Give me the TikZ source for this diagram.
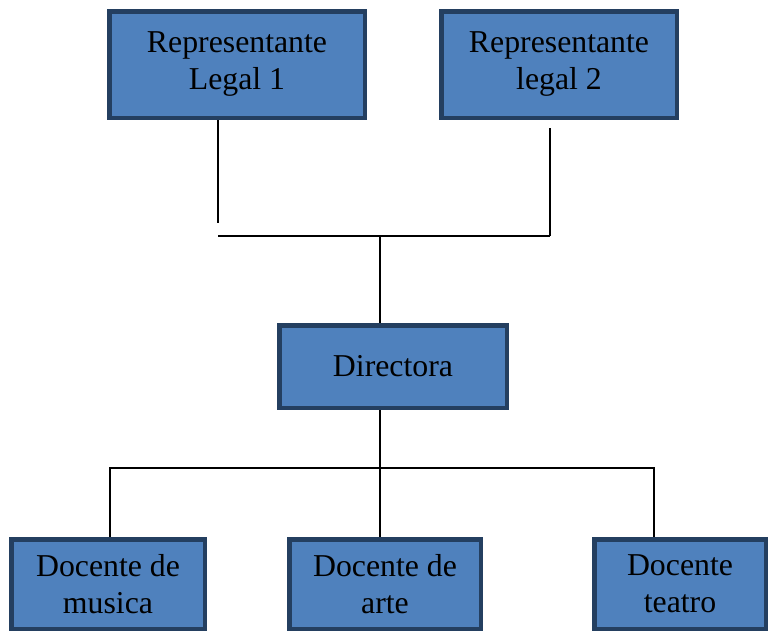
\documentclass[tikz,border=0pt]{standalone}
\usepackage{fontspec}
\setmainfont{Liberation Serif}
\definecolor{boxfill}{HTML}{4F81BD}
\definecolor{boxborder}{HTML}{243F60}
\begin{document}
\begin{tikzpicture}[x=1pt,y=-1pt,
  orgbox/.style={draw=boxborder, line width=4.5pt, fill=boxfill, inner sep=0pt,
    align=center, font=\fontsize{31.8}{37}\selectfont},
  conn/.style={draw=black, line width=2pt},
  connthin/.style={draw=black, line width=1.5pt}]
\useasboundingbox (0,0) rectangle (770,630);
\node[orgbox, minimum width=255.5pt, minimum height=106.5pt] (r1) at (237,64.5) {Representante\\Legal 1};
\node[orgbox, minimum width=235.5pt, minimum height=106.5pt] (r2) at (559,64.5) {Representante\\legal 2};
\node[orgbox, minimum width=227.5pt, minimum height=82.5pt] (dir) at (393,366.5) {Directora};
\node[orgbox, minimum width=193.5pt, minimum height=89.5pt] (d1) at (108,584) {Docente de\\musica};
\node[orgbox, minimum width=191.5pt, minimum height=89.5pt] (d2) at (385,584) {Docente de\\arte};
\node[orgbox, minimum width=171.5pt, minimum height=89.5pt] (d3) at (680,584) {Docente\\teatro};
% top connectors
\coordinate (a1) at (218,223);
\coordinate (h1) at (218,236);
\coordinate (a2top) at (550,128);
\coordinate (h2) at (550,236);
\coordinate (hm) at (380,236);
\draw[conn] (r1.south -| a1) -- (a1);
\draw[conn] (a2top) -- (h2);
\draw[conn] (h1) -- (h2);
\draw[conn] (hm) -- (dir.north -| hm);
% bottom connectors
\coordinate (b1) at (110,468);
\coordinate (bm) at (380,468);
\coordinate (b3) at (654,468);
\draw[connthin] (dir.south -| bm) -- (bm);
\draw[connthin] (d1.north -| b1) -- (b1) -- (b3) -- (d3.north -| b3);
\draw[connthin] (bm) -- (d2.north -| bm);
\end{tikzpicture}
\end{document}
